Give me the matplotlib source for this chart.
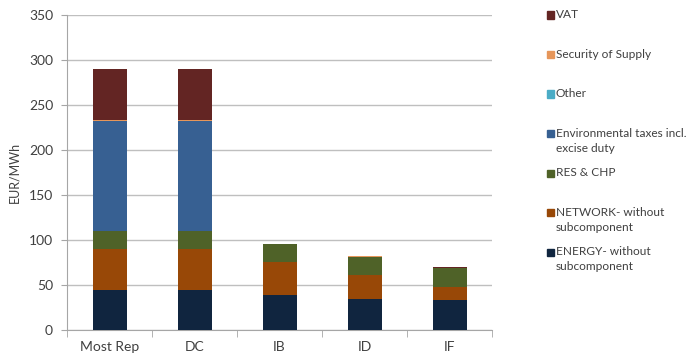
import matplotlib
matplotlib.use("Agg")
import matplotlib.pyplot as plt
from matplotlib.patches import Rectangle
import numpy as np

categories = ["Most Rep", "DC", "IB", "ID", "IF"]
energy = [45, 45, 38.5, 35, 33]
network = [45, 45, 37, 26, 15]
res_chp = [20, 20, 20, 20, 21]
env_taxes = [122, 122, 0, 0, 0]
other = [0.4, 0.4, 0, 0, 0]
security = [1.2, 1.2, 0.6, 1.5, 0]
vat = [56, 56, 0, 0, 1]

series_names = ["ENERGY- without\nsubcomponent", "NETWORK- without\nsubcomponent", "RES & CHP",
                "Environmental taxes incl.\nexcise duty", "Other", "Security of Supply", "VAT"]
series_values = [energy, network, res_chp, env_taxes, other, security, vat]
series_colors = ["#10253F", "#984807", "#4F6228", "#376092", "#4BACC6", "#E6965A", "#632523"]

plt.rcParams['font.family'] = ['Lato', 'DejaVu Sans']

fig = plt.figure(figsize=(6.92, 3.61), dpi=100)
ax = fig.add_axes([67/692, 1-330/361, (492-67)/692, (330-15)/361])

x = np.arange(len(categories))
bottom = np.zeros(len(categories))
for vals, col in zip(series_values, series_colors):
    v = np.array(vals, dtype=float)
    ax.bar(x, v, 0.4, bottom=bottom, color=col, zorder=3)
    bottom += v

ax.set_xlim(-0.5, len(categories) - 0.5)
ax.set_ylim(0, 350)
ax.set_yticks(np.arange(0, 351, 50))
ax.yaxis.grid(True, color="#BFBFBF", linewidth=1, zorder=0)
ax.set_xticks(x)
ax.set_xticklabels(categories)
ax.set_xticks(np.arange(-0.5, len(categories), 1), minor=True)
ax.tick_params(axis="x", which="major", length=0, pad=8, labelsize=10, colors="#404040")
ax.tick_params(axis="x", which="minor", length=5, color="#A6A6A6")
ax.tick_params(axis="y", length=4, color="#A6A6A6", labelsize=10, labelcolor="#404040", pad=6)
for s in ["top", "right"]:
    ax.spines[s].set_visible(False)
for s in ["left", "bottom"]:
    ax.spines[s].set_color("#A6A6A6")
ax.set_ylabel("EUR/MWh", fontsize=9, color="#404040", labelpad=6)

# legend, entries placed top-down at constant pitch
first_line_y = [15 + 39.5 * i for i in range(len(series_names))]
legend_order = list(range(len(series_names)))[::-1]
for ypix, idx in zip(first_line_y, legend_order):
    yf = 1 - ypix / 361
    fig.patches.append(Rectangle((547/692, yf - 3.5/361), 7/692, 7/361,
                                 transform=fig.transFigure, color=series_colors[idx]))
    fig.text(556/692, yf + 6/361, series_names[idx], fontsize=8.6, color="#404040",
             va="top", ha="left", linespacing=1.5)

fig.savefig("out.png", dpi=100)
